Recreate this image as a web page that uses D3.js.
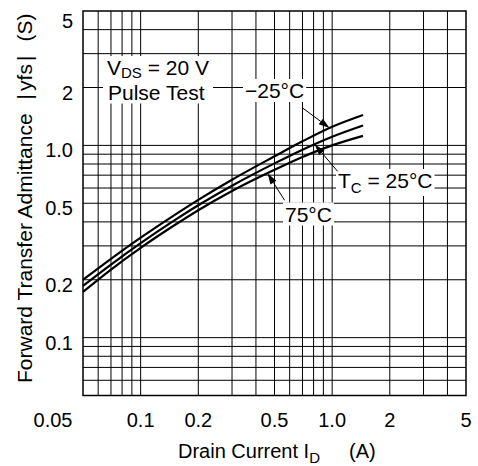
<!DOCTYPE html>
<html>
<head>
<meta charset="utf-8">
<script src="https://cdn.jsdelivr.net/npm/d3@7"></script>
<style>
  body { margin: 0; background: #fff; }
  text { font-family: "Liberation Sans", Arial, Helvetica, sans-serif; fill: #000; }
</style>
</head>
<body>
<svg id="chart" width="478" height="466"></svg>
<script>
// Drain current I_D (A)
const current = [0.05, 0.07, 0.1, 0.15, 0.2, 0.3, 0.5, 0.7, 1.0, 1.45];
// |yfs| (S) for each case temperature
const yfsMinus25 = [0.200, 0.257, 0.331, 0.434, 0.521, 0.663, 0.877, 1.05, 1.25, 1.44];
const yfs25      = [0.186, 0.240, 0.310, 0.407, 0.488, 0.617, 0.806, 0.95, 1.11, 1.27];
const yfs75      = [0.173, 0.226, 0.293, 0.384, 0.460, 0.579, 0.746, 0.87, 1.00, 1.12];

const xTickValues = [0.05, 0.1, 0.2, 0.5, 1, 2, 5];
const xTickLabels = ["0.05", "0.1", "0.2", "0.5", "1.0", "2", "5"];
const yTickValues = [5, 2, 1, 0.5, 0.2, 0.1];
const yTickLabels = ["5", "2", "1.0", "0.5", "0.2", "0.1"];

const svg = d3.select("#chart");

const plot = {left: 83, right: 466, top: 11, bottom: 395.5};

let x = d3.scaleLog().domain([0.05, 5]).range([plot.left, plot.right]);
let y = d3.scaleLog().domain([0.05, 5]).range([plot.bottom, plot.top]);

// Grid
let grid = svg.append("g");
x.ticks().filter(t => t > 0.05 && t < 5).forEach(t => {
  grid.append("line")
    .attr("x1", x(t)).attr("x2", x(t))
    .attr("y1", plot.top).attr("y2", plot.bottom)
    .attr("stroke", "#000").attr("stroke-width", 1);
});
y.ticks().filter(t => t > 0.05 && t < 5).forEach(t => {
  grid.append("line")
    .attr("x1", plot.left).attr("x2", plot.right)
    .attr("y1", y(t)).attr("y2", y(t))
    .attr("stroke", "#000").attr("stroke-width", 1);
});

// Curves
let line = d3.line()
  .x(d => x(d[0]))
  .y(d => y(d[1]))
  .curve(d3.curveMonotoneX);

[yfsMinus25, yfs25, yfs75].forEach(s => {
  svg.append("path")
    .datum(current.map((c, i) => [c, s[i]]))
    .attr("fill", "none")
    .attr("stroke", "#000")
    .attr("stroke-width", 2.2)
    .attr("d", line);
});

// Tick labels
xTickValues.forEach((v, i) => {
  svg.append("text")
    .attr("x", i === 0 ? x(v) - 30 : x(v))
    .attr("y", 427)
    .attr("text-anchor", "middle")
    .style("font-size", "20px")
    .text(xTickLabels[i]);
});
yTickValues.forEach((v, i) => {
  svg.append("text")
    .attr("x", 73)
    .attr("y", Math.max(y(v) + 12, 28))
    .attr("text-anchor", "end")
    .style("font-size", "20px")
    .text(yTickLabels[i]);
});

// Axis titles
let xt = svg.append("text")
  .attr("x", 178).attr("y", 457.5)
  .style("font-size", "20px");
xt.append("tspan").text("Drain Current I");
xt.append("tspan").attr("dy", 5.5).style("font-size", "15px").text("D");
xt.append("tspan").attr("dx", 29).attr("dy", -5.5).text("(A)");

let yt = svg.append("text")
  .attr("transform", "translate(32,383) rotate(-90)")
  .style("font-size", "21px");
yt.append("tspan").text("Forward Transfer Admittance");
yt.append("tspan").attr("dx", 14).text("|");
yt.append("tspan").attr("dx", 3).text("yfs");
yt.append("tspan").attr("dx", 3).text("|");
yt.append("tspan").attr("dx", 14).text("(S)");

// Labels with white boxes
function boxed(g, padX, padY) {
  let b = g.node().getBBox();
  g.insert("rect", ":first-child")
    .attr("x", b.x - padX).attr("y", b.y - padY)
    .attr("width", b.width + 2 * padX).attr("height", b.height + 2 * padY)
    .attr("fill", "#fff");
}

let cond = svg.append("g");
let t1 = cond.append("text").attr("x", 107).attr("y", 75).style("font-size", "21px");
t1.append("tspan").text("V");
t1.append("tspan").attr("dy", 3).style("font-size", "15px").text("DS");
t1.append("tspan").attr("dy", -3).text(" = 20 V");
cond.append("text").attr("x", 108).attr("y", 99.5).style("font-size", "21px").text("Pulse Test");
boxed(cond, 4, 0);

let lm25 = svg.append("g");
lm25.append("text").attr("x", 245).attr("y", 98).style("font-size", "21px").text("\u221225\u00b0C");
boxed(lm25, 2, 0);

let l25 = svg.append("g");
let t2 = l25.append("text").attr("x", 338).attr("y", 188).style("font-size", "21px");
t2.append("tspan").text("T");
t2.append("tspan").attr("dy", 5).style("font-size", "15px").text("C");
t2.append("tspan").attr("dy", -5).text(" = 25\u00b0C");
boxed(l25, 2, 0);

let l75 = svg.append("g");
l75.append("text").attr("x", 285).attr("y", 221.5).style("font-size", "21px").text("75\u00b0C");
boxed(l75, 2, 0);

// Arrows
function yOn(s, c) {
  let i = d3.bisectRight(current, c) - 1;
  i = Math.max(0, Math.min(i, current.length - 2));
  let t = Math.log(c / current[i]) / Math.log(current[i + 1] / current[i]);
  return Math.exp(Math.log(s[i]) + t * (Math.log(s[i + 1]) - Math.log(s[i])));
}

function arrow(s, c, dx, dy) {
  let tx = x(c), ty = y(yOn(s, c));
  let sx = tx + dx, sy = ty + dy;
  let ang = Math.atan2(ty - sy, tx - sx);
  let len = 11, half = 3.5;
  let bx = tx - len * Math.cos(ang), by = ty - len * Math.sin(ang);
  svg.append("line")
    .attr("x1", sx).attr("y1", sy).attr("x2", bx).attr("y2", by)
    .attr("stroke", "#000").attr("stroke-width", 1);
  svg.append("path")
    .attr("d", "M" + tx + "," + ty +
      "L" + (bx + half * Math.sin(ang)) + "," + (by - half * Math.cos(ang)) +
      "L" + (bx - half * Math.sin(ang)) + "," + (by + half * Math.cos(ang)) + "Z")
    .attr("fill", "#000");
}

arrow(yfsMinus25, 0.97, -27, -20);
arrow(yfs25, 0.81, 23, 27);
arrow(yfs75, 0.46, 17, 27);

// Frame
svg.append("rect")
  .attr("x", plot.left).attr("y", plot.top)
  .attr("width", plot.right - plot.left).attr("height", plot.bottom - plot.top)
  .attr("fill", "none")
  .attr("stroke", "#000")
  .attr("stroke-width", 1.5);
</script>
</body>
</html>
